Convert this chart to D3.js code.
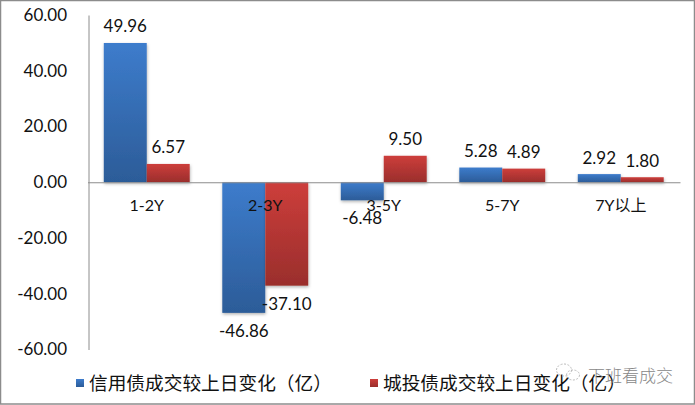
<!DOCTYPE html>
<html>
<head>
<meta charset="utf-8">
<script src="https://cdn.jsdelivr.net/npm/d3@7"></script>
<style>
  html, body { margin: 0; padding: 0; background: #fff; }
  svg { display: block; }
  text { font-family: Lato, "Noto Sans CJK SC", sans-serif; fill: #111; }
</style>
</head>
<body>
<svg id="chart" width="695" height="405"></svg>
<script>
var categories = ['1-2Y', '2-3Y', '3-5Y', '5-7Y', '7Y以上']
var creditValues = [49.96, -46.86, -6.48, 5.28, 2.92]
var lcfiValues = [6.57, -37.10, 9.50, 4.89, 1.80]
var seriesNames = ['信用债成交较上日变化（亿）', '城投债成交较上日变化（亿）']
var yTicks = [60, 40, 20, 0, -20, -40, -60]
var watermarkText = '下班看成交'

var svg = d3.select('#chart')
var defs = svg.append('defs')

function add_gradient (id, top, bottom) {
  var g = defs.append('linearGradient').attr('id', id)
    .attr('x1', 0).attr('y1', 0).attr('x2', 0).attr('y2', 1)
  g.append('stop').attr('offset', '0%').attr('stop-color', top)
  g.append('stop').attr('offset', '100%').attr('stop-color', bottom)
}
add_gradient('blue-grad', '#3d7ccc', '#2c5c98')
add_gradient('red-grad', '#cd3e3b', '#9a2e2c')

var shadow = defs.append('filter').attr('id', 'bar-shadow')
  .attr('x', '-20%').attr('y', '-20%').attr('width', '140%').attr('height', '140%')
shadow.append('feDropShadow').attr('dx', 0.5).attr('dy', 1.5).attr('stdDeviation', 1.5)
  .attr('flood-color', '#000').attr('flood-opacity', 0.3)

var x = d3.scaleBand().domain(categories).range([87.5, 680]).paddingInner(0.275).paddingOuter(0.1375)
var y = d3.scaleLinear().domain([-60, 60]).range([349.5, 15])
var barWidth = x.bandwidth() / 2

// border
svg.append('rect').attr('x', 0.5).attr('y', 0.5).attr('width', 694).attr('height', 403.5)
  .attr('fill', 'none').attr('stroke', '#8c8c8c').attr('stroke-width', 1.5)

var series = [
  { name: seriesNames[0], values: creditValues, fill: 'url(#blue-grad)', offset: 0 },
  { name: seriesNames[1], values: lcfiValues, fill: 'url(#red-grad)', offset: 1 }
]

series.forEach(function (s) {
  svg.append('g').attr('filter', 'url(#bar-shadow)')
    .selectAll('rect').data(s.values).enter().append('rect')
    .attr('x', function (d, i) { return x(categories[i]) + s.offset * barWidth })
    .attr('y', function (d) { return y(Math.max(d, 0)) })
    .attr('width', barWidth)
    .attr('height', function (d) { return Math.abs(y(d) - y(0)) })
    .attr('fill', s.fill)
})

// axes lines sit above the bars
var yAxis = d3.axisLeft(y).tickValues(yTicks).tickSize(0).tickPadding(21.5)
  .tickFormat(function (d) { return d3.format('.2f')(d).replace('−', '-') })
var yG = svg.append('g').attr('transform', 'translate(88.5,0)').call(yAxis)
yG.select('.domain').attr('stroke', '#8c8c8c')
yG.selectAll('text').attr('font-size', 17).attr('font-family', 'Lato').attr('fill', '#111')

var xAxis = d3.axisBottom(x).tickSize(0).tickPadding(0)
var xG = svg.append('g').attr('transform', 'translate(0,' + y(0) + ')').call(xAxis)
xG.select('.domain').attr('stroke', '#8c8c8c')
xG.selectAll('text').attr('y', 29).attr('dy', 0).attr('font-size', 16)
  .attr('font-family', 'Lato, "Noto Sans CJK SC"').attr('fill', '#111')

// data labels
series.forEach(function (s) {
  svg.append('g').selectAll('text').data(s.values).enter().append('text')
    .attr('x', function (d, i) { return x(categories[i]) + (s.offset + 0.5) * barWidth })
    .attr('y', function (d) { return d >= 0 ? y(d) - 10.5 : y(d) + 24 })
    .attr('text-anchor', 'middle')
    .attr('font-size', 17)
    .text(function (d) { return d3.format('.2f')(d).replace('−', '-') })
})

// legend
var legendX = [76, 370]
series.forEach(function (s, i) {
  svg.append('rect').attr('x', legendX[i]).attr('y', 379).attr('width', 8).attr('height', 8)
    .attr('fill', s.fill)
  svg.append('text').attr('x', legendX[i] + 13).attr('y', 390)
    .attr('font-size', 18.7).attr('font-family', '"Noto Sans CJK SC"')
    .text(s.name)
})

// watermark, wechat style icon plus account name
var mark = svg.append('g').attr('fill', 'none').attr('stroke', '#bbb').attr('stroke-width', 1)
  .attr('stroke-dasharray', '2 1.5')
mark.append('ellipse').attr('cx', 564).attr('cy', 370).attr('rx', 7.5).attr('ry', 6)
mark.append('ellipse').attr('cx', 573).attr('cy', 375).attr('rx', 6.5).attr('ry', 5)
svg.append('text').attr('x', 588).attr('y', 382).attr('font-size', 17)
  .attr('font-family', '"Noto Sans CJK SC"').attr('font-weight', 300)
  .style('fill', '#888').text(watermarkText)
</script>
</body>
</html>
